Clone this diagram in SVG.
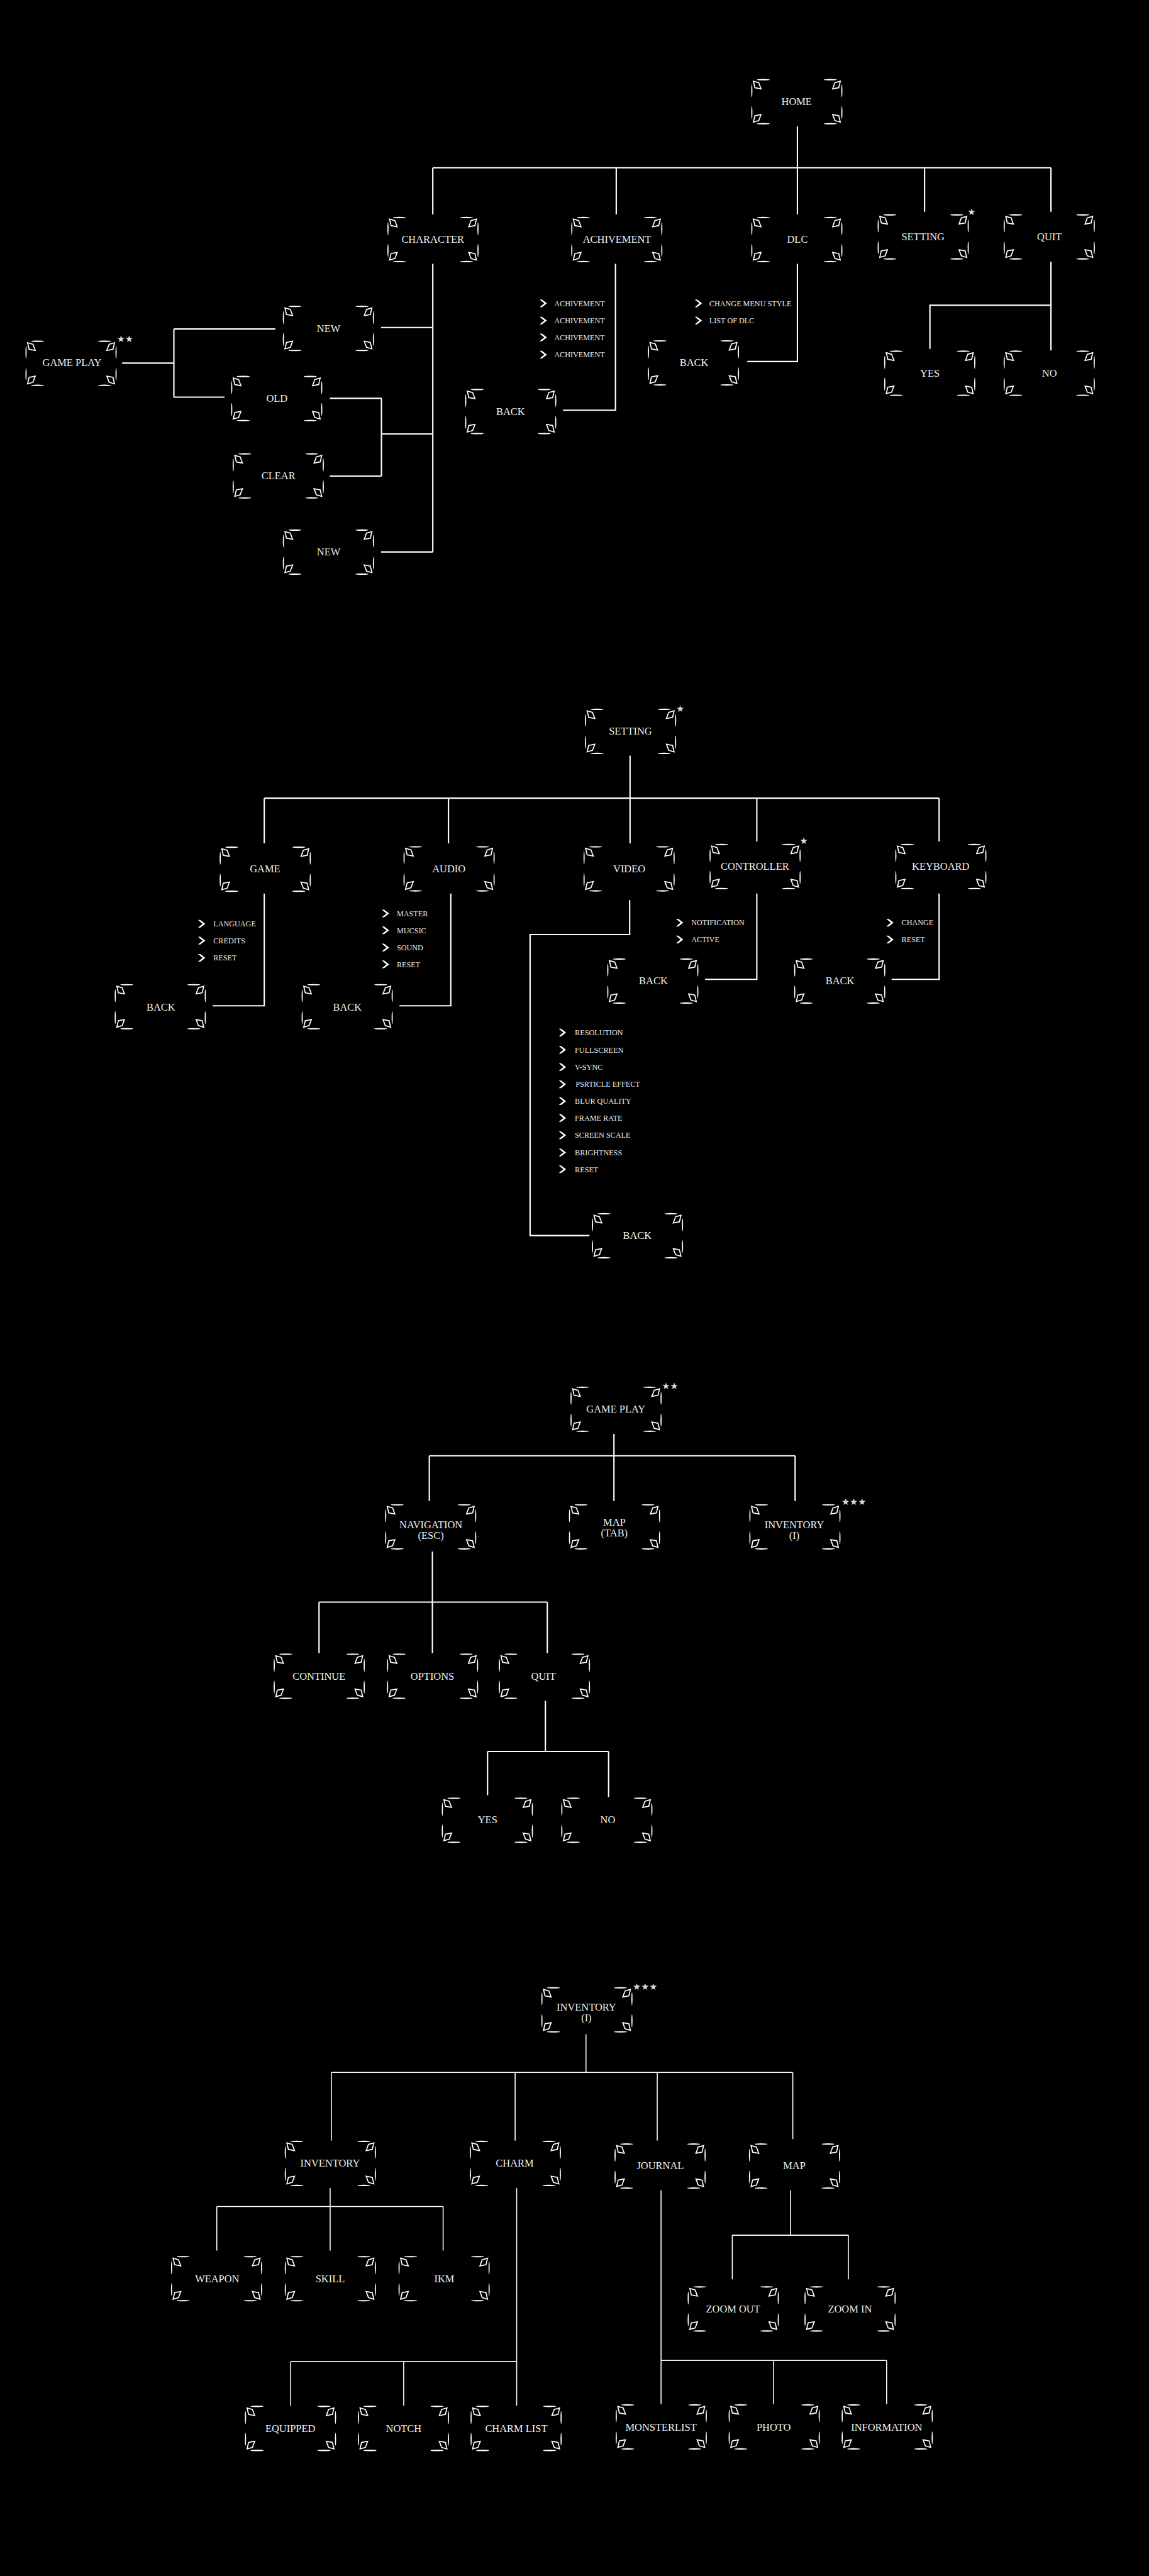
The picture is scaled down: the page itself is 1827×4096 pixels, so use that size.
<svg xmlns="http://www.w3.org/2000/svg" xmlns:xlink="http://www.w3.org/1999/xlink" width="1827" height="4096" viewBox="0 0 1827 4096">
<style>
.ln{stroke:#fff;stroke-width:3.5;fill:none}
.thin{stroke-width:2.6}
.lbl{font-family:"Liberation Serif",serif;font-size:27px;fill:#f0f0f0;text-anchor:middle}
.itm{font-family:"Liberation Serif",serif;font-size:20px;fill:#ececec}
.star{font-family:"DejaVu Sans",sans-serif;font-size:24px;fill:#dcdcdc}
.fb{fill:#fff}
.fd{fill:none;stroke:#fff;stroke-width:2.8;stroke-linejoin:miter}
</style>
<defs>
<g id="frame">
<ellipse class="fb" cx="30" cy="0" rx="17" ry="1.8"/>
<ellipse class="fb" cx="205" cy="0" rx="17" ry="1.8"/>
<ellipse class="fb" cx="30" cy="115" rx="17" ry="1.8"/>
<ellipse class="fb" cx="205" cy="115" rx="17" ry="1.8"/>
<ellipse class="fb" cx="0" cy="29" rx="1.5" ry="17"/>
<ellipse class="fb" cx="0" cy="86" rx="1.5" ry="17"/>
<ellipse class="fb" cx="235" cy="29" rx="1.5" ry="17"/>
<ellipse class="fb" cx="235" cy="86" rx="1.5" ry="17"/>
<polygon class="fd" points="4,4 18,8 24,24 8,21"/>
<polygon class="fd" points="231,4 217,8 211,24 227,21"/>
<polygon class="fd" points="4,111 18,107 24,91 8,94"/>
<polygon class="fd" points="231,111 217,107 211,91 227,94"/>
</g>
<path id="chev" d="M0 0 L6 0 L19 10 L6 20 L0 20 L12 10 Z" fill="#fff"/>
</defs>
<rect width="1827" height="4096" fill="#000"/>
<g transform="scale(0.609)">

<g id="connectors">
<!-- section 1 -->
<path class="ln" d="M2082 330 V560 M1130 438 H2744 M1130 438 V560 M1609 438 V560 M2414 438 V553 M2744 438 V553"/>
<path class="ln" d="M1130 689 V1441 M995 855 H1130 M995 1441 H1130 M1130 1133 H996 M996 1040 V1243 M861 1040 H996 M861 1243 H996"/>
<path class="ln" d="M319 948 H454 M454 859 V1037 M454 859 H719 M454 1037 H586"/>
<path class="ln" d="M1607 689 V1071 H1470 M2082 689 V944 H1951"/>
<path class="ln" d="M2744 683 V915 M2744 797 H2428 V911"/>
<!-- section 2 -->
<path class="ln" d="M1645 1973 V2202 M690 2084 H2452 M690 2084 V2202 M1171 2084 V2202 M1976 2084 V2197 M2452 2084 V2197"/>
<path class="ln" d="M690 2333 V2626 H555 M1177 2333 V2626 H1043 M1644 2350 V2440 H1384 V3226 H1539 M1976 2333 V2557 H1841 M2452 2333 V2557 H2328"/>
<!-- section 3 -->
<path class="ln" d="M1603 3744 V3919 M1121 3801 H2076 M1121 3801 V3919 M2076 3801 V3919"/>
<path class="ln" d="M1129 4051 V4316 M833 4183 H1429 M833 4183 V4316 M1429 4183 V4316"/>
<path class="ln" d="M1424 4441 V4573 M1273 4573 H1589 M1273 4573 V4687 M1589 4573 V4692"/>
<!-- section 4 -->
<path class="ln thin" d="M1530 5311 V5411 M865 5411 H2070 M865 5411 V5589 M1345 5411 V5589 M1716 5411 V5589 M2070 5411 V5585"/>
<path class="ln thin" d="M862 5713 V5876 M566 5761 H1157 M566 5761 V5876 M1157 5761 V5876"/>
<path class="ln thin" d="M1349 5713 V6281 M759 6166 H1349 M759 6166 V6281 M1054 6166 V6281"/>
<path class="ln thin" d="M1726 5719 V6277 M1726 6163 H2315 M2020 6163 V6277 M2315 6163 V6277"/>
<path class="ln thin" d="M2064 5719 V5836 M1912 5836 H2215 M1912 5836 V5951 M2215 5836 V5951"/>
</g>

<!-- SECTION 1 -->
<g id="n-home"><use href="#frame" x="1963" y="208"/><text class="lbl" x="2080" y="274">HOME</text></g>
<g id="n-character"><use href="#frame" x="1013" y="568"/><text class="lbl" x="1130" y="634">CHARACTER</text></g>
<g id="n-achivement"><use href="#frame" x="1493" y="568"/><text class="lbl" x="1611" y="634">ACHIVEMENT</text></g>
<g id="n-dlc"><use href="#frame" x="1963" y="568"/><text class="lbl" x="2082" y="634">DLC</text></g>
<g id="n-setting1"><use href="#frame" x="2293" y="561"/><text class="lbl" x="2410" y="627">SETTING</text><text class="star" x="2526" y="562">★</text></g>
<g id="n-quit1"><use href="#frame" x="2622" y="561"/><text class="lbl" x="2740" y="627">QUIT</text></g>
<g id="n-gameplay1"><use href="#frame" x="68" y="891"/><text class="lbl" x="188" y="956">GAME PLAY</text><text class="star" x="305" y="894">★★</text></g>
<g id="n-new1"><use href="#frame" x="740" y="800"/><text class="lbl" x="858" y="867">NEW</text></g>
<g id="n-old"><use href="#frame" x="605" y="983"/><text class="lbl" x="723" y="1049">OLD</text></g>
<g id="n-clear"><use href="#frame" x="609" y="1185"/><text class="lbl" x="727" y="1252">CLEAR</text></g>
<g id="n-new2"><use href="#frame" x="740" y="1384"/><text class="lbl" x="858" y="1450">NEW</text></g>
<g id="n-back-ach"><use href="#frame" x="1216" y="1017"/><text class="lbl" x="1333" y="1084">BACK</text></g>
<g id="n-back-dlc"><use href="#frame" x="1693" y="890"/><text class="lbl" x="1812" y="956">BACK</text></g>
<g id="n-yes1"><use href="#frame" x="2310" y="917"/><text class="lbl" x="2428" y="983">YES</text></g>
<g id="n-no1"><use href="#frame" x="2622" y="917"/><text class="lbl" x="2740" y="983">NO</text></g>

<g id="list-achivement">
<use href="#chev" x="1409" y="782"/><text class="itm" x="1447" y="799">ACHIVEMENT</text>
<use href="#chev" x="1409" y="827"/><text class="itm" x="1447" y="844">ACHIVEMENT</text>
<use href="#chev" x="1409" y="871"/><text class="itm" x="1447" y="888">ACHIVEMENT</text>
<use href="#chev" x="1409" y="916"/><text class="itm" x="1447" y="933">ACHIVEMENT</text>
</g>
<g id="list-dlc">
<use href="#chev" x="1814" y="782"/><text class="itm" x="1852" y="799">CHANGE MENU STYLE</text>
<use href="#chev" x="1814" y="827"/><text class="itm" x="1852" y="844">LIST OF DLC</text>
</g>

<!-- SECTION 2 -->
<g id="n-setting2"><use href="#frame" x="1529" y="1852"/><text class="lbl" x="1646" y="1918">SETTING</text><text class="star" x="1765" y="1858">★</text></g>
<g id="n-game"><use href="#frame" x="575" y="2212"/><text class="lbl" x="692" y="2278">GAME</text></g>
<g id="n-audio"><use href="#frame" x="1055" y="2211"/><text class="lbl" x="1172" y="2277">AUDIO</text></g>
<g id="n-video"><use href="#frame" x="1525" y="2211"/><text class="lbl" x="1643" y="2277">VIDEO</text></g>
<g id="n-controller"><use href="#frame" x="1854" y="2205"/><text class="lbl" x="1971" y="2271">CONTROLLER</text><text class="star" x="2088" y="2204">★</text></g>
<g id="n-keyboard"><use href="#frame" x="2339" y="2205"/><text class="lbl" x="2456" y="2271">KEYBOARD</text></g>
<g id="n-back-game"><use href="#frame" x="301" y="2571"/><text class="lbl" x="420" y="2638">BACK</text></g>
<g id="n-back-audio"><use href="#frame" x="789" y="2571"/><text class="lbl" x="907" y="2638">BACK</text></g>
<g id="n-back-ctrl"><use href="#frame" x="1587" y="2504"/><text class="lbl" x="1706" y="2570">BACK</text></g>
<g id="n-back-kb"><use href="#frame" x="2075" y="2504"/><text class="lbl" x="2193" y="2570">BACK</text></g>
<g id="n-back-video"><use href="#frame" x="1547" y="3169"/><text class="lbl" x="1664" y="3235">BACK</text></g>

<g id="list-game">
<use href="#chev" x="517" y="2402"/><text class="itm" x="557" y="2419">LANGUAGE</text>
<use href="#chev" x="517" y="2446"/><text class="itm" x="557" y="2463">CREDITS</text>
<use href="#chev" x="517" y="2491"/><text class="itm" x="557" y="2508">RESET</text>
</g>
<g id="list-audio">
<use href="#chev" x="997" y="2375"/><text class="itm" x="1036" y="2392">MASTER</text>
<use href="#chev" x="997" y="2419"/><text class="itm" x="1036" y="2436">MUCSIC</text>
<use href="#chev" x="997" y="2464"/><text class="itm" x="1036" y="2481">SOUND</text>
<use href="#chev" x="997" y="2508"/><text class="itm" x="1036" y="2525">RESET</text>
</g>
<g id="list-controller">
<use href="#chev" x="1765" y="2399"/><text class="itm" x="1805" y="2416">NOTIFICATION</text>
<use href="#chev" x="1765" y="2443"/><text class="itm" x="1805" y="2460">ACTIVE</text>
</g>
<g id="list-keyboard">
<use href="#chev" x="2314" y="2399"/><text class="itm" x="2354" y="2416">CHANGE</text>
<use href="#chev" x="2314" y="2443"/><text class="itm" x="2354" y="2460">RESET</text>
</g>
<g id="list-video">
<use href="#chev" x="1459" y="2686"/><text class="itm" x="1501" y="2703">RESOLUTION</text>
<use href="#chev" x="1459" y="2731"/><text class="itm" x="1501" y="2748">FULLSCREEN</text>
<use href="#chev" x="1459" y="2776"/><text class="itm" x="1501" y="2793">V-SYNC</text>
<use href="#chev" x="1459" y="2821"/><text class="itm" x="1503" y="2838">PSRTICLE EFFECT</text>
<use href="#chev" x="1459" y="2865"/><text class="itm" x="1501" y="2882">BLUR QUALITY</text>
<use href="#chev" x="1459" y="2909"/><text class="itm" x="1501" y="2926">FRAME RATE</text>
<use href="#chev" x="1459" y="2954"/><text class="itm" x="1501" y="2971">SCREEN SCALE</text>
<use href="#chev" x="1459" y="2999"/><text class="itm" x="1501" y="3016">BRIGHTNESS</text>
<use href="#chev" x="1459" y="3043"/><text class="itm" x="1501" y="3060">RESET</text>
</g>

<!-- SECTION 3 -->
<g id="n-gameplay2"><use href="#frame" x="1491" y="3622"/><text class="lbl" x="1608" y="3688">GAME PLAY</text><text class="star" x="1728" y="3628">★★</text></g>
<g id="n-navigation"><use href="#frame" x="1007" y="3929"/><text class="lbl" x="1125" y="3990">NAVIGATION</text><text class="lbl" x="1125" y="4018">(ESC)</text></g>
<g id="n-map-tab"><use href="#frame" x="1487" y="3929"/><text class="lbl" x="1604" y="3983">MAP</text><text class="lbl" x="1604" y="4011">(TAB)</text></g>
<g id="n-inventory-i"><use href="#frame" x="1958" y="3929"/><text class="lbl" x="2074" y="3990">INVENTORY</text><text class="lbl" x="2074" y="4018">(I)</text><text class="star" x="2197" y="3929">★★★</text></g>
<g id="n-continue"><use href="#frame" x="716" y="4319"/><text class="lbl" x="833" y="4386">CONTINUE</text></g>
<g id="n-options"><use href="#frame" x="1012" y="4319"/><text class="lbl" x="1129" y="4386">OPTIONS</text></g>
<g id="n-quit2"><use href="#frame" x="1304" y="4319"/><text class="lbl" x="1419" y="4386">QUIT</text></g>
<g id="n-yes2"><use href="#frame" x="1155" y="4695"/><text class="lbl" x="1273" y="4761">YES</text></g>
<g id="n-no2"><use href="#frame" x="1467" y="4695"/><text class="lbl" x="1587" y="4761">NO</text></g>

<!-- SECTION 4 -->
<g id="n-inventory-top"><use href="#frame" x="1415" y="5190"/><text class="lbl" x="1531" y="5249">INVENTORY</text><text class="lbl" x="1531" y="5278">(I)</text><text class="star" x="1652" y="5196">★★★</text></g>
<g id="n-inventory"><use href="#frame" x="745" y="5591"/><text class="lbl" x="862" y="5657">INVENTORY</text></g>
<g id="n-charm"><use href="#frame" x="1228" y="5591"/><text class="lbl" x="1344" y="5657">CHARM</text></g>
<g id="n-journal"><use href="#frame" x="1606" y="5598"/><text class="lbl" x="1724" y="5664">JOURNAL</text></g>
<g id="n-map"><use href="#frame" x="1957" y="5598"/><text class="lbl" x="2074" y="5664">MAP</text></g>
<g id="n-weapon"><use href="#frame" x="448" y="5892"/><text class="lbl" x="567" y="5959">WEAPON</text></g>
<g id="n-skill"><use href="#frame" x="745" y="5892"/><text class="lbl" x="862" y="5959">SKILL</text></g>
<g id="n-ikm"><use href="#frame" x="1042" y="5892"/><text class="lbl" x="1160" y="5959">IKM</text></g>
<g id="n-zoomout"><use href="#frame" x="1797" y="5971"/><text class="lbl" x="1914" y="6038">ZOOM OUT</text></g>
<g id="n-zoomin"><use href="#frame" x="2102" y="5971"/><text class="lbl" x="2219" y="6038">ZOOM IN</text></g>
<g id="n-equipped"><use href="#frame" x="641" y="6283"/><text class="lbl" x="758" y="6349">EQUIPPED</text></g>
<g id="n-notch"><use href="#frame" x="936" y="6283"/><text class="lbl" x="1054" y="6349">NOTCH</text></g>
<g id="n-charmlist"><use href="#frame" x="1230" y="6283"/><text class="lbl" x="1348" y="6349">CHARM LIST</text></g>
<g id="n-monsterlist"><use href="#frame" x="1609" y="6279"/><text class="lbl" x="1726" y="6346">MONSTERLIST</text></g>
<g id="n-photo"><use href="#frame" x="1904" y="6279"/><text class="lbl" x="2020" y="6346">PHOTO</text></g>
<g id="n-information"><use href="#frame" x="2199" y="6279"/><text class="lbl" x="2315" y="6346">INFORMATION</text></g>

</g>
</svg>
